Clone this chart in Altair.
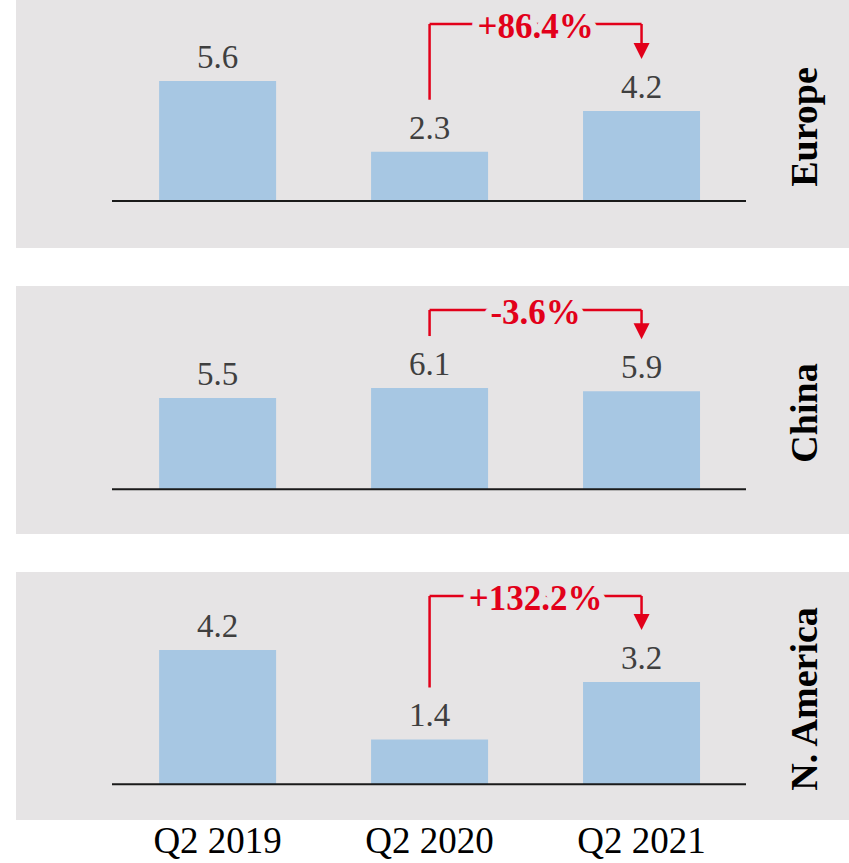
import altair as alt
import pandas as pd

# ---- data ----
categories = ["Q2 2019", "Q2 2020", "Q2 2021"]
regions = ["Europe", "China", "N. America"]
europe = [5.6, 2.3, 4.2]
china = [5.5, 6.1, 5.9]
n_america = [4.2, 1.4, 3.2]
changes = ["+86.4%", "-3.6%", "+132.2%"]

series = [europe, china, n_america]

# ---- layout / style ----
y_domains = [[-2.193, 9.38], [-2.693, 12.247], [-1.116, 6.634]]
BG = "#e6e4e5"
BAR = "#a7c7e3"
RED = "#e2001a"
FONT = "Liberation Serif"
W, H = 833, 248


def panel(i):
    df = pd.DataFrame({"cat": categories, "value": series[i]})
    base = alt.Chart(df)
    xscale = alt.Scale(domain=categories, paddingInner=0.448,
                       paddingOuter=0.689, align=0.49)
    if i == 2:
        xaxis = alt.Axis(labelFont=FONT, labelFontSize=37, labelColor="black",
                         labelPadding=3, domain=False, ticks=False,
                         labelAngle=0, title=None, grid=False)
    else:
        xaxis = None
    x = alt.X("cat:N", scale=xscale, axis=xaxis, title=None)
    yscale = alt.Scale(domain=y_domains[i], nice=False, zero=False)
    y = alt.Y("value:Q", scale=yscale, axis=None)

    bars = base.mark_bar(color=BAR).encode(x=x, y=y)
    labels = base.mark_text(dy=-13, baseline="alphabetic", font=FONT,
                            fontSize=33, color="#3f3f3f").encode(
        x=x, y=y, text=alt.Text("value:Q", format=".1f"))
    zdf = pd.DataFrame({"z": [0.0]})
    baseline = alt.Chart(zdf).mark_rule(color="#1a1a1a", strokeWidth=2).encode(
        x=alt.value(96), x2=alt.value(730), y=alt.Y("z:Q", scale=yscale, axis=None))

    left = base.transform_filter(alt.datum.cat == categories[1]).mark_rule(
        color=RED, strokeWidth=2.5, yOffset=-52).encode(x=x, y=y, y2=alt.value(24))
    right = base.transform_filter(alt.datum.cat == categories[2]).mark_rule(
        color=RED, strokeWidth=2.5, yOffset=-58).encode(x=x, y=y, y2=alt.value(24))
    head = base.transform_filter(alt.datum.cat == categories[2]).mark_point(
        shape="M-1,-1L1,-1L0,1Z", filled=True, size=256, color=RED,
        opacity=1, yOffset=-60).encode(x=x, y=y)

    cdf = pd.DataFrame({"cat": [categories[1]], "cat2": [categories[2]],
                        "change": [changes[i]]})
    top = alt.Chart(cdf).mark_rule(color=RED, strokeWidth=2.5).encode(
        x=x, x2="cat2:N", y=alt.value(24))
    halo = alt.Chart(cdf).mark_text(
        xOffset=106, dy=3, baseline="middle", font=FONT, fontSize=35,
        fontWeight="bold", fill=BG, stroke=BG, strokeWidth=14,
        strokeJoin="round").encode(x=x, y=alt.value(24), text="change:N")
    ctext = alt.Chart(cdf).mark_text(
        xOffset=106, dy=3, baseline="middle", font=FONT, fontSize=35,
        fontWeight="bold", color=RED).encode(x=x, y=alt.value(24), text="change:N")

    rdf = pd.DataFrame({"region": [regions[i]]})
    region = alt.Chart(rdf).mark_text(
        angle=270, align="center", baseline="alphabetic", font=FONT,
        fontSize=38, fontWeight="bold", color="black").encode(
        x=alt.value(801), y=alt.value(H / 2 + 3), text="region:N")

    return alt.layer(bars, labels, baseline, left, right, top, head,
                     halo, ctext, region).properties(width=W, height=H)


chart = alt.vconcat(*[panel(i) for i in range(3)], spacing=38).properties(
    padding={"left": 16, "top": 0, "right": 0, "bottom": 0}
).configure_view(fill=BG, stroke=None)

chart.save("out.html", embed_options={"renderer": "svg", "actions": False})
